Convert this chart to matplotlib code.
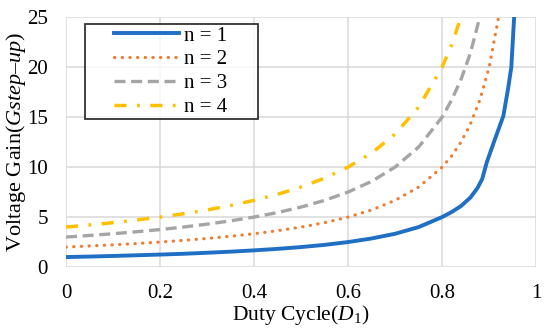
import matplotlib
matplotlib.use("Agg")
import numpy as np
from matplotlib import pyplot as plt
from matplotlib.lines import Line2D
from matplotlib.legend_handler import HandlerLine2D

plt.rcParams['font.family'] = ['Liberation Serif', 'DejaVu Serif']
plt.rcParams['mathtext.fontset'] = 'custom'
plt.rcParams['mathtext.rm'] = 'Liberation Serif'
plt.rcParams['mathtext.it'] = 'Liberation Serif:italic'

# duty cycle points
duty = [0.0, 0.05, 0.1, 0.15, 0.2, 0.25, 0.3, 0.35, 0.4, 0.45, 0.5, 0.55, 0.6,
        0.65, 0.7, 0.75, 0.8, 0.82, 0.84, 0.86, 0.88, 0.9, 0.92]
# n = 1 curve bends later than the others, own sample points near the top
duty_n1 = [0.0, 0.05, 0.1, 0.15, 0.2, 0.25, 0.3, 0.35, 0.4, 0.45, 0.5, 0.55, 0.6,
           0.65, 0.7, 0.75, 0.8, 0.82, 0.84, 0.86, 0.875, 0.885, 0.895, 0.91,
           0.93, 0.94, 0.947, 0.953]

gain_n1 = [1.00, 1.05, 1.11, 1.18, 1.25, 1.33, 1.43, 1.54, 1.67, 1.82, 2.00, 2.22, 2.50,
           2.86, 3.33, 4.00, 5.00, 5.50, 6.10, 6.95, 7.90, 8.80, 10.5, 12.5,
           15.1, 17.8, 20.0, 25.0]
gain_n2 = [2.00, 2.11, 2.22, 2.35, 2.50, 2.67, 2.86, 3.08, 3.33, 3.64, 4.00, 4.44, 5.00,
           5.71, 6.67, 8.00, 10.0, 11.1, 12.5, 14.3, 16.7, 20.0, 25.0]
gain_n3 = [3.00, 3.16, 3.33, 3.53, 3.75, 4.00, 4.29, 4.62, 5.00, 5.45, 6.00, 6.67, 7.50,
           8.57, 10.0, 12.0, 15.0, 16.7, 18.75, 21.4, 25.0]
gain_n4 = [4.00, 4.21, 4.44, 4.71, 5.00, 5.33, 5.71, 6.15, 6.67, 7.27, 8.00, 8.89, 10.0,
           11.4, 13.3, 16.0, 20.0, 22.2, 25.0]

labels = ["n = 1", "n = 2", "n = 3", "n = 4"]
x_ticks = [0, 0.2, 0.4, 0.6, 0.8, 1]
x_ticklabels = ["0", "0.2", "0.4", "0.6", "0.8", "1"]
y_ticks = [0, 5, 10, 15, 20, 25]


class InsetHandler(HandlerLine2D):
    # excel style legend: line sample starts a bit in from the frame
    def create_artists(self, legend, orig_handle, xdescent, ydescent, width, height, fontsize, trans):
        arts = super().create_artists(legend, orig_handle, xdescent, ydescent, width, height,
                                      fontsize, trans)
        for a in arts:
            x = np.asarray(a.get_xdata(), dtype=float)
            if len(x) > 1:
                a.set_xdata(np.linspace(x[0] + 0.3 * (x[-1] - x[0]), x[-1], len(x)))
        return arts


fig = plt.figure(figsize=(5.5, 3.33), dpi=100)
ax = fig.add_axes([0.12, 0.198, 0.855, 0.751])

ax.plot(duty_n1, gain_n1, color='#1F6FC5', lw=2.8, ls='-', label=labels[0])
ax.plot(duty[:len(gain_n2)], gain_n2, color='#ED7D31', lw=2.3, ls=(0, (0.1, 2.3)),
        dash_capstyle='round', label=labels[1])
ax.plot(duty[:len(gain_n3)], gain_n3, color='#A5A5A5', lw=2.4, ls=(0, (3.3, 1.7)), label=labels[2])
ax.plot(duty[:len(gain_n4)], gain_n4, color='#FFC000', lw=2.5, ls=(0, (3.5, 3, 0.8, 3)), label=labels[3])

ax.set_xlim(0, 1)
ax.set_ylim(0, 25)
ax.set_xticks(x_ticks)
ax.set_xticklabels(x_ticklabels)
ax.set_yticks(y_ticks)
ax.tick_params(axis='x', length=0, labelsize=15, pad=12)
ax.tick_params(axis='y', length=0, labelsize=15, pad=13)
ax.grid(True, color='#D9D9D9', lw=1.1)
ax.set_axisbelow(True)
for s in ax.spines.values():
    s.set_visible(False)

ax.set_xlabel("Duty Cycle($D_{\\mathit{1}}$)", fontsize=15.5, labelpad=0.5)
ax.set_ylabel("Voltage Gain($\\mathit{Gstep–up}$)", fontsize=16, labelpad=-1)

leg = ax.legend(loc='upper left', bbox_to_anchor=(0.04, 0.5, 0.368, 0.472), mode='expand',
                fontsize=15, frameon=True, fancybox=False, handlelength=4.4,
                handletextpad=0.25, borderpad=0.1, labelspacing=0.2, borderaxespad=0,
                handler_map={Line2D: InsetHandler()})
leg.get_frame().set_edgecolor('black')
leg.get_frame().set_linewidth(1.3)

plt.savefig("out.png", dpi=100)
